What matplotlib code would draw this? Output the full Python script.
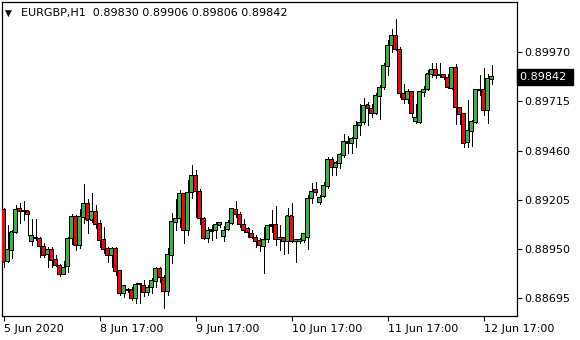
import matplotlib
matplotlib.use("Agg")
import matplotlib.pyplot as plt
from matplotlib.patches import Rectangle

symbol = "EURGBP,H1"
opens = [0.89152,0.88883,0.88942,0.89037,0.89157,0.89148,0.89146,0.88987,0.89005,0.89005,
         0.88961,0.88922,0.88944,0.88896,0.88865,0.88818,0.88857,0.89005,0.89115,0.88966,
         0.89115,0.89183,0.89100,0.89141,0.89079,0.88996,0.88949,0.88914,0.88953,0.88835,
         0.88719,0.88736,0.88736,0.88693,0.88766,0.88760,0.88724,0.88750,0.88783,0.88849,
         0.88802,0.88728,0.88918,0.89086,0.89108,0.89235,0.89044,0.89243,0.89328,0.89247,
         0.89108,0.89003,0.89039,0.89044,0.89074,0.89013,0.89053,0.89083,0.89152,0.89130,
         0.89074,0.89054,0.89031,0.89010,0.88992,0.88961,0.88999,0.89065,0.89074,0.88999,
         0.89010,0.88987,0.89120,0.88987,0.88987,0.88992,0.89010,0.89212,0.89255,0.89190,
         0.89222,0.89275,0.89415,0.89373,0.89394,0.89433,0.89508,0.89498,0.89524,0.89588,
         0.89607,0.89696,0.89679,0.89653,0.89743,0.89788,0.89899,0.90007,0.90056,0.89986,
         0.89757,0.89726,0.89765,0.89610,0.89605,0.89760,0.89778,0.89857,0.89878,0.89852,
         0.89852,0.89840,0.89783,0.89892,0.89685,0.89650,0.89501,0.89560,0.89606,0.89772,
         0.89778,0.89668,0.89830]
highs = [0.89162,0.89074,0.89048,0.89177,0.89186,0.89198,0.89152,0.89105,0.89105,0.89011,
         0.88980,0.88958,0.88958,0.88920,0.88871,0.88887,0.89011,0.89131,0.89126,0.89155,
         0.89286,0.89207,0.89241,0.89177,0.89100,0.89061,0.88961,0.88961,0.88961,0.88835,
         0.88762,0.88747,0.88753,0.88771,0.88767,0.88788,0.88762,0.88797,0.88857,0.88857,
         0.88814,0.88953,0.89134,0.89207,0.89255,0.89241,0.89307,0.89385,0.89359,0.89261,
         0.89115,0.89065,0.89074,0.89091,0.89091,0.89071,0.89100,0.89162,0.89197,0.89143,
         0.89107,0.89065,0.89048,0.89022,0.89005,0.89063,0.89074,0.89154,0.89172,0.89074,
         0.89013,0.89162,0.89188,0.89001,0.89006,0.89034,0.89229,0.89293,0.89298,0.89227,
         0.89298,0.89428,0.89427,0.89406,0.89449,0.89546,0.89538,0.89529,0.89615,0.89702,
         0.89731,0.89714,0.89702,0.89757,0.89800,0.89913,0.90034,0.90089,0.90143,0.90000,
         0.89805,0.89777,0.89765,0.89704,0.89765,0.89795,0.89878,0.89913,0.89913,0.89912,
         0.89852,0.89855,0.89894,0.89907,0.89685,0.89650,0.89722,0.89619,0.89778,0.89852,
         0.89887,0.89855,0.89906]
lows = [0.88856,0.88882,0.88902,0.89032,0.89086,0.89100,0.89022,0.88970,0.88996,0.88909,
        0.88909,0.88857,0.88857,0.88861,0.88811,0.88818,0.88831,0.88975,0.88944,0.88954,
        0.89083,0.89031,0.89089,0.89058,0.88957,0.88927,0.88883,0.88857,0.88814,0.88710,
        0.88702,0.88726,0.88684,0.88669,0.88670,0.88705,0.88710,0.88719,0.88753,0.88779,
        0.88641,0.88710,0.88875,0.89048,0.89065,0.88979,0.89022,0.89212,0.89117,0.89079,
        0.89003,0.88987,0.88996,0.89005,0.89065,0.88991,0.89048,0.89079,0.89115,0.89065,
        0.89039,0.89013,0.89006,0.88961,0.88939,0.88822,0.88985,0.89037,0.88970,0.88944,
        0.88923,0.88927,0.88985,0.88883,0.88980,0.88985,0.88948,0.89188,0.89229,0.89183,
        0.89217,0.89266,0.89331,0.89333,0.89368,0.89425,0.89447,0.89449,0.89477,0.89541,
        0.89598,0.89593,0.89633,0.89650,0.89622,0.89780,0.89852,0.89972,0.89982,0.89740,
        0.89707,0.89707,0.89636,0.89603,0.89602,0.89743,0.89774,0.89843,0.89839,0.89840,
        0.89831,0.89783,0.89780,0.89599,0.89598,0.89481,0.89480,0.89482,0.89602,0.89746,
        0.89645,0.89603,0.89806]
closes = [0.88882,0.88944,0.89037,0.89155,0.89143,0.89148,0.89129,0.89017,0.89005,0.88961,
          0.88918,0.88944,0.88888,0.88862,0.88818,0.88852,0.89005,0.89115,0.88966,0.89115,
          0.89183,0.89100,0.89141,0.89079,0.88992,0.88949,0.88914,0.88953,0.88831,0.88719,
          0.88757,0.88736,0.88693,0.88766,0.88766,0.88723,0.88750,0.88783,0.88849,0.88802,
          0.88728,0.88918,0.89091,0.89108,0.89235,0.89044,0.89243,0.89328,0.89247,0.89108,
          0.89004,0.89043,0.89048,0.89074,0.89086,0.89045,0.89084,0.89160,0.89130,0.89075,
          0.89048,0.89034,0.89010,0.88987,0.88966,0.89000,0.89069,0.89074,0.88999,0.89010,
          0.88987,0.89120,0.88987,0.88999,0.88999,0.89027,0.89212,0.89248,0.89241,0.89217,
          0.89276,0.89415,0.89373,0.89395,0.89437,0.89508,0.89498,0.89524,0.89588,0.89607,
          0.89691,0.89679,0.89653,0.89743,0.89788,0.89899,0.90007,0.90056,0.89986,0.89757,
          0.89726,0.89765,0.89653,0.89629,0.89765,0.89778,0.89857,0.89878,0.89850,0.89852,
          0.89840,0.89788,0.89892,0.89685,0.89650,0.89498,0.89565,0.89610,0.89778,0.89778,
          0.89668,0.89835,0.89842]

ytick_vals = [0.88695, 0.88950, 0.89205, 0.89460, 0.89715, 0.89970]
xtick_idx = [0, 24, 48, 72, 96, 120]
xtick_labels = ["5 Jun 2020", "8 Jun 17:00", "9 Jun 17:00", "10 Jun 17:00",
                "11 Jun 17:00", "12 Jun 17:00"]

BULL = "#3cb043"
BEAR = "#e01010"

W, H = 580, 340
fig = plt.figure(figsize=(W / 100, H / 100), dpi=100)
fig.patch.set_facecolor("white")
ax = fig.add_axes([2 / W, 24 / H, 515 / W, 314 / H])
ax.set_facecolor("white")

YMIN, YMAX = 0.886014, 0.902310
XMIN, XMAX = -0.375, 128.375
ax.set_xlim(XMIN, XMAX)
ax.set_ylim(YMIN, YMAX)
px_x = (XMAX - XMIN) / 515.0      # data units per pixel (x)
px_y = (YMAX - YMIN) / 314.0      # data units per pixel (y)

for i, (o, h, l, c) in enumerate(zip(opens, highs, lows, closes)):
    ax.plot([i, i], [l, h], color="black", lw=0.72, antialiased=False, zorder=2,
            solid_capstyle="butt")
    top, bot = max(o, c), min(o, c)
    if top - bot < px_y * 0.8:
        ax.plot([i - 1.6 * px_x, i + 1.6 * px_x], [o, o], color="black", lw=0.72,
                antialiased=False, zorder=3, solid_capstyle="butt", snap=False)
        continue
    fc = BULL if c > o else BEAR
    ax.add_patch(Rectangle((i - 1.6 * px_x, bot - 0.1 * px_y), 3.2 * px_x,
                           top - bot + 0.2 * px_y, facecolor="black", edgecolor="none",
                           antialiased=False, snap=False, zorder=3))
    if top - bot > 2 * px_y:
        ax.add_patch(Rectangle((i - 0.6 * px_x, bot + 0.9 * px_y), 1.2 * px_x,
                               top - bot - 1.8 * px_y, facecolor=fc, edgecolor="none",
                               antialiased=False, snap=False, zorder=4))

for s in ax.spines.values():
    s.set_color("black")
    s.set_linewidth(0.9)

FS = 8.0
ax.yaxis.tick_right()
ax.set_yticks(ytick_vals)
ax.set_yticklabels([f"{v:.5f}" for v in ytick_vals])
ax.tick_params(axis="y", direction="out", length=3.5, width=0.8, pad=2,
               labelsize=FS, colors="black")
ax.set_xticks(xtick_idx)
ax.set_xticklabels(xtick_labels)
ax.tick_params(axis="x", direction="out", length=3.5, width=0.8, pad=2.5,
               labelsize=FS, colors="black")
for lbl in ax.get_xticklabels():
    lbl.set_horizontalalignment("left")

# current price label
last = closes[-1]
ax.text(1.006, last, f"{last:.5f} ", transform=ax.get_yaxis_transform(),
        ha="left", va="center", fontsize=FS, color="white", zorder=10,
        bbox=dict(boxstyle="square,pad=0.25", facecolor="black", edgecolor="black"),
        clip_on=False)

# header
title = f"{symbol}  {opens[-1]:.5f} {highs[-1]:.5f} {lows[-1]:.5f} {closes[-1]:.5f}"
fig.text(5 / W, 1 - 13 / H, "\u25BC", ha="left", va="center", fontsize=6.5, color="black")
fig.text(21 / W, 1 - 13 / H, title, ha="left", va="center", fontsize=FS, color="black")

fig.savefig("out.png", dpi=100, facecolor="white")
